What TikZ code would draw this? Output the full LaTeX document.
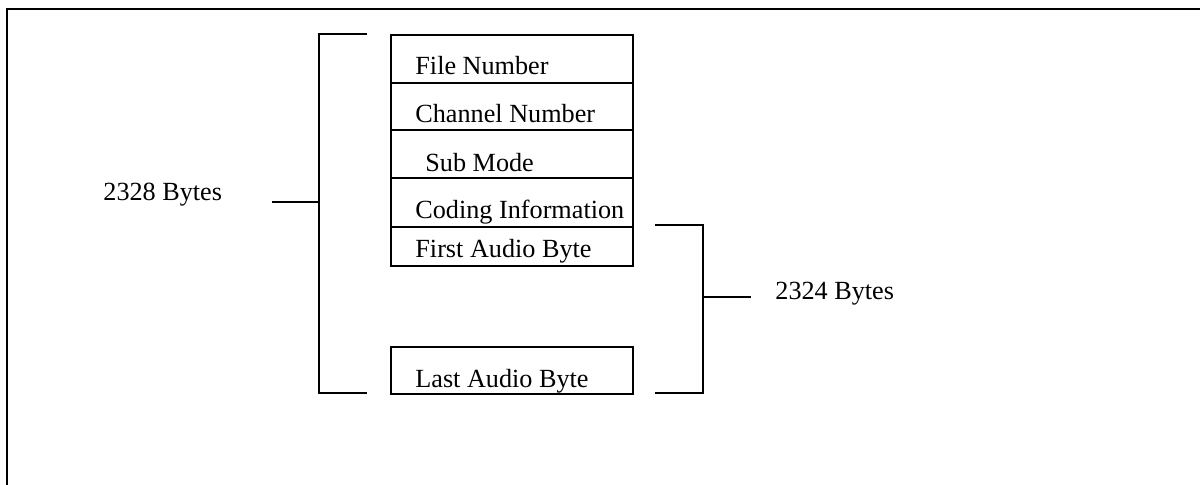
\documentclass[tikz,border=0pt]{standalone}
\usepackage{fontspec}
\setmainfont{Liberation Serif}
\begin{document}
\begin{tikzpicture}[x=0.5pt,y=-0.5pt,
  ln/.style={line width=0.8pt,black},
  cell/.style={draw,line width=0.8pt,inner sep=0pt,anchor=north west,minimum width=121pt},
  lbl/.style={anchor=base west,inner sep=0pt,font=\fontsize{13.1pt}{14pt}\selectfont}]
\useasboundingbox (0,0) rectangle (1200,485);
% outer frame (cut off at right and bottom)
\draw[line width=1pt] (7,490) -- (7,9) -- (1205,9);
% cells
\node[cell,minimum height=24pt] (c1) at (390,34) {};
\node[cell,minimum height=23.5pt] (c2) at (390,82) {};
\node[cell,minimum height=24pt] (c3) at (390,129) {};
\node[cell,minimum height=24.5pt] (c4) at (390,177) {};
\node[cell,minimum height=19.5pt] (c5) at (390,226) {};
\node[cell,minimum height=23.5pt] (c6) at (390,346) {};
% texts
\node[lbl] (t1) at (415,75) {File Number};
\node[lbl] (t2) at (415,123) {Channel Number};
\node[lbl] (t3) at (425,172) {Sub Mode};
\node[lbl] (t4) at (415,219) {Coding Information};
\node[lbl] (t5) at (415,258) {First Audio Byte};
\node[lbl] (t6) at (415,388) {Last Audio Byte};
\node[lbl] (b1) at (103,201) {2328 Bytes};
\node[lbl] (b2) at (775,300) {2324 Bytes};
% left bracket
\coordinate (lt) at (367,34);
\coordinate (lb) at (367,393);
\coordinate (lm) at (272,202);
\draw[ln] (lt) -- (319,34) -- (319,393) -- (lb);
\draw[ln] (lm) -- (319,202);
% right bracket
\coordinate (rt) at (655,225);
\coordinate (rb) at (655,393);
\coordinate (rm) at (751,297);
\draw[ln] (rt) -- (703,225) -- (703,393) -- (rb);
\draw[ln] (703,297) -- (rm);
\end{tikzpicture}
\end{document}
